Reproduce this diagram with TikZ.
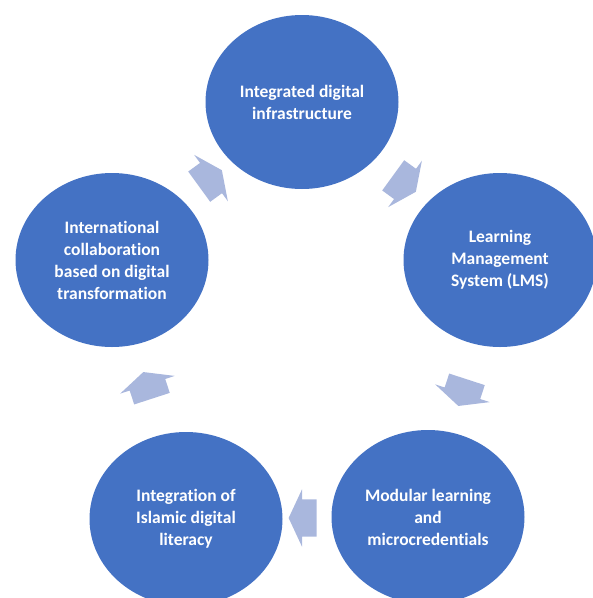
\documentclass[tikz,border=0pt]{standalone}
\usepackage{fontspec}
\setmainfont{Carlito}[Ligatures=NoCommon]
\usepackage{xcolor}
\usepackage{tikz}
\usetikzlibrary{arrows.meta,shapes.geometric,shapes.arrows,calc}

\definecolor{stepblue}{HTML}{4472C4}
\definecolor{arrowblue}{HTML}{A9B7DD}

\begin{document}
\begin{tikzpicture}[x=1pt,y=-1pt,
  every node/.style={font=\bfseries\fontsize{17.5}{22}\selectfont},
  stage/.style={ellipse,fill=stepblue,text=white,align=center,
    minimum width=193pt,minimum height=174pt,inner sep=0pt},
  cyclearrow/.style={single arrow,fill=arrowblue,inner xsep=0pt,inner ysep=18.5pt,
    minimum height=28pt,
    single arrow head extend=10pt,single arrow tip angle=130}]
\useasboundingbox (0,0) rectangle (593,598);
\clip (0,0) rectangle (593,598);
\node[stage] (infra) at (302,102) {Integrated digital\\infrastructure};
\node[stage] (lms) at (500,260) {Learning\\Management\\System (LMS)};
\node[stage] (modular) at (428,517) {Modular learning\\and\\microcredentials};
\node[stage] (literacy) at (186,519) {Integration of\\Islamic digital\\literacy};
\node[stage] (collab) at (112,260) {International\\collaboration\\based on digital\\transformation};
% arrows halfway between neighbouring stages
\node[cyclearrow,rotate=36] (a1) at ($(collab)!0.5!(infra)$) {};
\node[cyclearrow,rotate=-36] (a2) at ($(infra)!0.5!(lms)$) {};
\node[cyclearrow,rotate=-108] (a3) at ($(lms)!0.5!(modular)$) {};
\node[cyclearrow,rotate=180] (a4) at ($(modular)!0.5!(literacy)$) {};
\node[cyclearrow,rotate=108] (a5) at ($(literacy)!0.5!(collab)$) {};
\end{tikzpicture}
\end{document}
